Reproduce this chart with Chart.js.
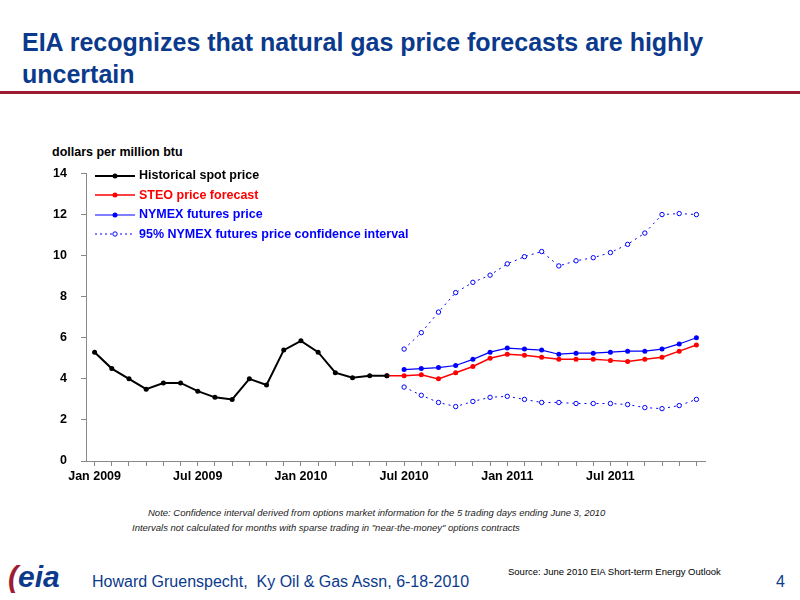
<!DOCTYPE html>
<html><head><meta charset="utf-8">
<script src="https://cdn.jsdelivr.net/npm/chart.js@4/dist/chart.umd.min.js"></script>
<style>
body{margin:0;width:800px;height:600px;background:#fff;font-family:"Liberation Sans",Arial,sans-serif;position:relative;overflow:hidden}
#title{position:absolute;left:22px;top:26px;color:#0b3a8c;font-weight:bold;font-size:25px;line-height:32px;width:760px}
#rule{position:absolute;left:0;top:91px;width:800px;height:3px;background:#9e1b32}
#ylab{position:absolute;left:52px;top:145px;font-weight:bold;font-size:12.5px}
#wrap{position:absolute;left:40px;top:152px;width:700px;height:335px}
#legend{position:absolute;left:95px;top:166px;font-weight:bold;font-size:12.5px;line-height:19.5px}
#legend div{display:flex;align-items:center}
#legend svg{margin-right:4px}
.note{position:absolute;font-style:italic;font-size:9.5px;color:#222}
#src{position:absolute;left:508px;top:566px;font-size:9.5px}
#foot{position:absolute;left:92px;top:573px;color:#0b3a8c;font-size:16px}
#page{position:absolute;left:776px;top:573px;color:#0b3a8c;font-size:16px}
#logo{position:absolute;left:8px;top:560px;color:#0b3a8c;font-weight:bold;font-style:italic;font-size:30px}
#logo span{color:#9e1b32}
</style></head><body>
<div id="title">EIA recognizes that natural gas price forecasts are highly uncertain</div>
<div id="rule"></div>
<div id="ylab">dollars per million btu</div>
<div id="wrap"><canvas id="c"></canvas></div>
<div id="legend">
 <div style="color:#000"><svg width="40" height="10"><line x1="0" y1="5" x2="40" y2="5" stroke="#000" stroke-width="2"/><circle cx="20" cy="5" r="2.5" fill="#000"/></svg>Historical spot price</div>
 <div style="color:#f00"><svg width="40" height="10"><line x1="0" y1="5" x2="40" y2="5" stroke="#f00" stroke-width="1.5"/><circle cx="20" cy="5" r="2.5" fill="#f00"/></svg>STEO price forecast</div>
 <div style="color:#00f"><svg width="40" height="10"><line x1="0" y1="5" x2="40" y2="5" stroke="#00f" stroke-width="1.2"/><circle cx="20" cy="5" r="2.5" fill="#00f"/></svg>NYMEX futures price</div>
 <div style="color:#00f"><svg width="40" height="10"><line x1="0" y1="5" x2="40" y2="5" stroke="#00f" stroke-width="1" stroke-dasharray="2,3"/><circle cx="20" cy="5" r="2.2" fill="#fff" stroke="#00f"/></svg>95% NYMEX futures price confidence interval</div>
</div>
<div class="note" style="left:148px;top:507px">Note: Confidence interval derived from options market information for the 5 trading days ending June 3, 2010</div>
<div class="note" style="left:132px;top:522px">Intervals not calculated for months with sparse trading in "near-the-money" options contracts</div>
<div id="src">Source: June 2010 EIA Short-term Energy Outlook</div>
<div id="logo"><span>(</span>eia</div>
<div id="foot">Howard Gruenspecht,&nbsp; Ky Oil &amp; Gas Assn, 6-18-2010</div>
<div id="page">4</div>
<script>
const monthNames = ['Jan','Feb','Mar','Apr','May','Jun','Jul','Aug','Sep','Oct','Nov','Dec'];
const months = [];
[2009, 2010, 2011].forEach(y => monthNames.forEach(m => months.push(m + ' ' + y)));

const pad = n => Array(n).fill(null);
const historical = [5.3,4.5,4.0,3.5,3.8,3.8,3.4,3.1,3.0,4.0,3.7,5.4,5.85,5.3,4.3,4.05,4.15,4.15];
const steo = [4.15,4.15,4.2,4.0,4.3,4.6,5.0,5.2,5.15,5.05,4.95,4.95,4.95,4.9,4.85,4.95,5.05,5.35,5.65];
const nymex = [4.45,4.5,4.55,4.65,4.95,5.3,5.5,5.45,5.4,5.2,5.25,5.25,5.3,5.35,5.35,5.45,5.7,6.0];
const upper95 = [5.45,6.25,7.25,8.2,8.7,9.05,9.6,9.95,10.2,9.5,9.75,9.9,10.15,10.55,11.1,12.0,12.05,12.0];
const lower95 = [3.6,3.2,2.85,2.65,2.9,3.1,3.15,3.0,2.85,2.85,2.8,2.8,2.8,2.75,2.6,2.55,2.7,3.0];
const yTicks = [0,2,4,6,8,10,12,14];

const solid = (label, data, color, w) => ({
  label, data, borderColor: color, backgroundColor: color, borderWidth: w,
  pointRadius: 2.5, pointBorderWidth: 0, pointHoverRadius: 2.5, tension: 0
});
const dotted = (label, data) => ({
  label, data, borderColor: '#00f', backgroundColor: '#fff', borderWidth: 1,
  borderDash: [2, 4], pointRadius: 2.2, pointBorderWidth: 1, tension: 0
});

new Chart(document.getElementById('c'), {
  type: 'line',
  data: {
    labels: months,
    datasets: [
      solid('Historical spot price', historical, '#000', 2),
      solid('STEO price forecast', pad(17).concat(steo), '#f00', 1.5),
      solid('NYMEX futures price', pad(18).concat(nymex), '#00f', 1.2),
      dotted('95% upper', pad(18).concat(upper95)),
      dotted('95% lower', pad(18).concat(lower95))
    ]
  },
  options: {
    responsive: true, maintainAspectRatio: false, animation: false,
    layout: { padding: { top: 13, right: 35 } },
    plugins: { legend: { display: false }, tooltip: { enabled: false } },
    scales: {
      x: {
        offset: true,
        grid: { display: true, drawOnChartArea: false, tickLength: 5, color: '#888' },
        border: { color: '#888' },
        ticks: {
          autoSkip: false, maxRotation: 0, color: '#000',
          font: { family: 'Liberation Sans', size: 12.5, weight: 'bold' },
          callback: (v, i) => i % 6 === 0 ? months[i] : ''
        }
      },
      y: {
        min: 0, max: 14,
        afterBuildTicks: a => { a.ticks = yTicks.map(v => ({ value: v })); },
        afterFit: a => { a.width = 46; },
        grid: { drawOnChartArea: false, tickLength: 5, color: '#888' },
        border: { color: '#888' },
        ticks: { color: '#000', padding: 14, font: { family: 'Liberation Sans', size: 12.5, weight: 'bold' } }
      }
    }
  }
});
</script>
</body></html>
